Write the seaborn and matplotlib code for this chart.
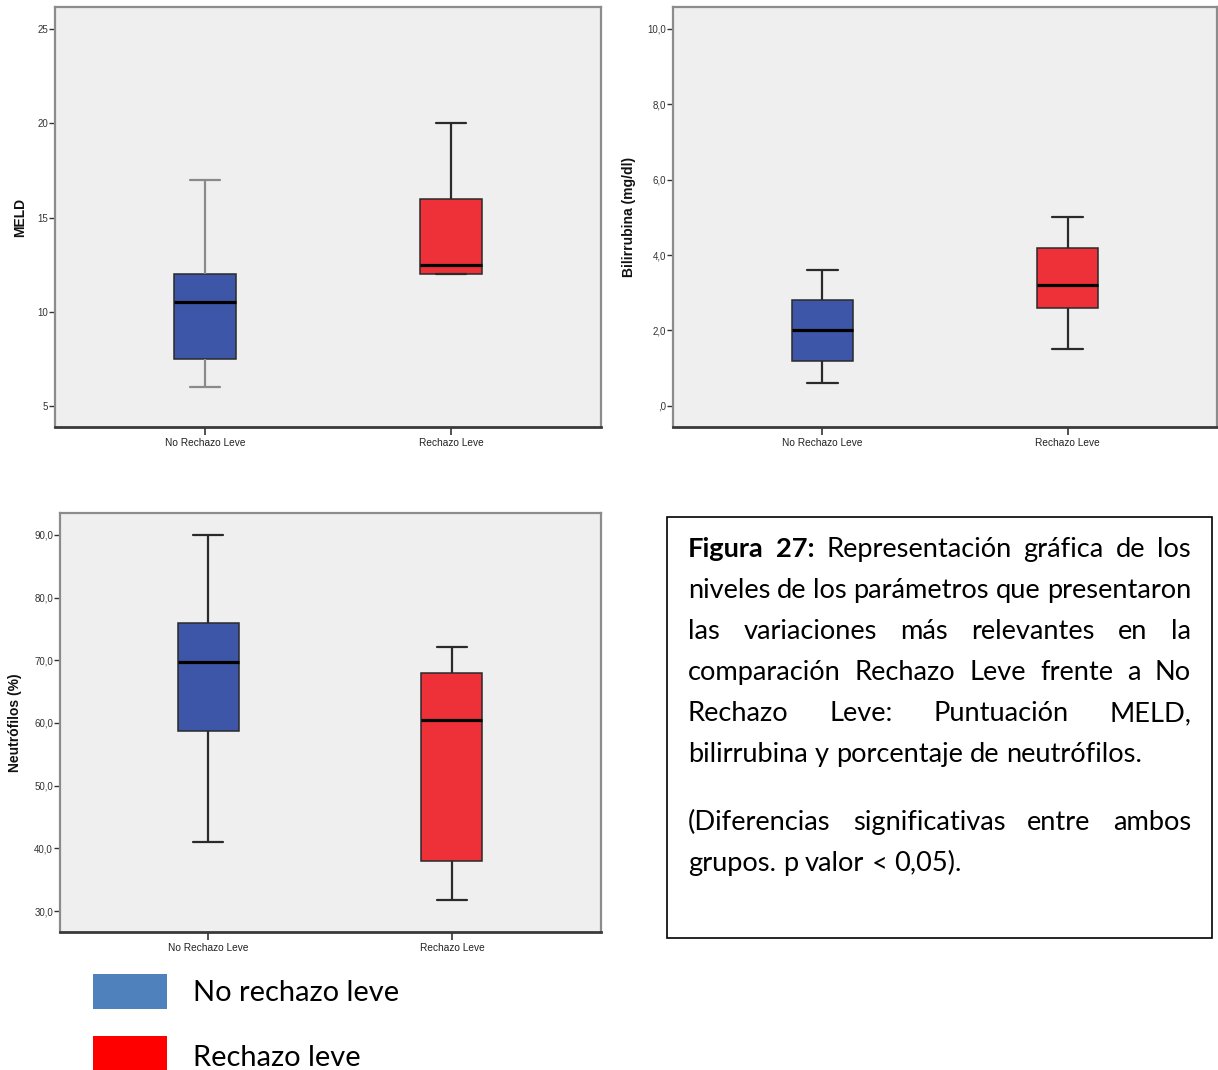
import matplotlib
matplotlib.use("Agg")
import matplotlib.pyplot as plt
import matplotlib.transforms as mtransforms
from matplotlib.patches import Rectangle
import seaborn as sns
import pandas as pd
import numpy as np

W, H, DPI = 1218, 1070, 100

# ---------------- data ----------------
groups = ["No Rechazo Leve", "Rechazo Leve"]
# five-number summaries: min, Q1, median, Q3, max
meld_no = [6.0, 7.5, 10.5, 12.0, 17.0]
meld_si = [12.0, 12.0, 12.5, 16.0, 20.0]
bili_no = [0.6, 1.2, 2.0, 2.8, 3.6]
bili_si = [1.5, 2.6, 3.2, 4.2, 5.0]
neut_no = [41.0, 58.7, 69.7, 76.0, 90.0]
neut_si = [31.8, 37.9, 60.4, 68.0, 72.2]

meld_ticks = [5, 10, 15, 20, 25]
meld_ticklabels = ["5", "10", "15", "20", "25"]
bili_ticks = [0, 2, 4, 6, 8, 10]
bili_ticklabels = [",0", "2,0", "4,0", "6,0", "8,0", "10,0"]
neut_ticks = [30, 40, 50, 60, 70, 80, 90]
neut_ticklabels = ["30,0", "40,0", "50,0", "60,0", "70,0", "80,0", "90,0"]

ylabels = ["MELD", "Bilirrubina (mg/dl)", "Neutrófilos (%)"]
legend_labels = ["No rechazo leve", "Rechazo leve"]

caption_lines = [
    [("Figura", "bold"), ("27:", "bold"), ("Representación", "normal"), ("gráfica", "normal"),
     ("de", "normal"), ("los", "normal")],
    "niveles de los parámetros que presentaron",
    "las variaciones más relevantes en la",
    "comparación Rechazo Leve frente a No",
    "Rechazo Leve: Puntuación MELD,",
    "bilirrubina y porcentaje de neutrófilos.",
    "(Diferencias significativas entre ambos",
    "grupos. p valor < 0,05).",
]
caption_justify = [True, True, True, True, True, False, True, False]

# ---------------- style ----------------
BOX_COLORS = ["#3d56a8", "#ee3039"]
LEG_COLORS = ["#4f81bd", "#ff0000"]
CHART_FONT = "Liberation Sans"
BODY_FONT = "Lato"

sns.set_theme(style="white")
plt.rcParams["font.family"] = [CHART_FONT, "DejaVu Sans"]

fig = plt.figure(figsize=(W / DPI, H / DPI), dpi=DPI)
fig.patch.set_facecolor("white")


def px_rect(l, t, r, b):
    return [l / W, 1 - b / H, (r - l) / W, (b - t) / H]


panels = [
    dict(rect=px_rect(55, 7, 601, 427), no=meld_no, si=meld_si, ylim=(3.89, 26.17),
         ticks=meld_ticks, tl=meld_ticklabels, label=ylabels[0], lx=-0.051,
         xlim=(-0.61, 1.61), gray_first=True),
    dict(rect=px_rect(673, 7, 1217, 427), no=bili_no, si=bili_si, ylim=(-0.56, 10.58),
         ticks=bili_ticks, tl=bili_ticklabels, label=ylabels[1], lx=-0.068,
         xlim=(-0.61, 1.61), gray_first=False),
    dict(rect=px_rect(60, 513, 601, 932), no=neut_no, si=neut_si, ylim=(26.65, 93.5),
         ticks=neut_ticks, tl=neut_ticklabels, label=ylabels[2], lx=-0.070,
         xlim=(-0.607, 1.611), gray_first=False),
]

for p in panels:
    ax = fig.add_axes(p["rect"])
    df = pd.DataFrame({
        "grupo": [groups[0]] * len(p["no"]) + [groups[1]] * len(p["si"]),
        "valor": list(p["no"]) + list(p["si"]),
    })
    sns.boxplot(data=df, x="grupo", y="valor", hue="grupo", order=groups, hue_order=groups,
                palette=BOX_COLORS, saturation=1, width=0.25, whis=(0, 100),
                showfliers=False, legend=False, ax=ax, linecolor="#2a2a2a",
                linewidth=1.5,
                boxprops=dict(linewidth=1.1),
                medianprops=dict(color="black", linewidth=2.3),
                whiskerprops=dict(color="#2a2a2a", linewidth=1.6),
                capprops=dict(color="#2a2a2a", linewidth=1.6))
    if p["gray_first"]:
        for ln in ax.lines:
            xd = np.asarray(ln.get_xdata(), dtype=float)
            if len(xd) and abs(xd.mean()) < 0.05 and (xd.max() - xd.min()) < 0.2:
                ln.set_color("#8a8a8a")
    ax.set_facecolor("#efefef")
    ax.set_xlim(*p["xlim"])
    ax.set_ylim(*p["ylim"])
    ax.set_yticks(p["ticks"])
    ax.set_yticklabels(p["tl"])
    ax.set_xlabel("")
    ax.set_ylabel(p["label"], fontsize=10, fontweight="bold", color="#111111",
                  family=[CHART_FONT, "DejaVu Sans"])
    ax.yaxis.set_label_coords(p["lx"], 0.5)
    ax.tick_params(axis="y", direction="out", length=4, width=1, color="#333333",
                   labelsize=7, labelcolor="#333333", pad=1, left=True)
    ax.tick_params(axis="x", direction="out", length=6, width=1.2, color="#333333",
                   labelsize=7.3, labelcolor="#222222", pad=2, bottom=True)
    for name, sp in ax.spines.items():
        sp.set_visible(True)
        sp.set_color("#8c8c8c")
        sp.set_linewidth(1.6)
    ax.spines["bottom"].set_color("#3a3a3a")
    ax.spines["bottom"].set_linewidth(2.0)

# ---------------- text helpers ----------------
renderer = fig.canvas.get_renderer()
ident = mtransforms.IdentityTransform()


def text_width(s, size, weight="normal", family=BODY_FONT):
    t = fig.text(0, 0, s, fontsize=size, fontweight=weight, family=family, transform=ident)
    w = t.get_window_extent(renderer).width
    t.remove()
    return w


def fit_size(s, target, weight="normal", family=BODY_FONT):
    return 20.0 * target / text_width(s, 20.0, weight, family)


body_size = fit_size("bilirrubina y porcentaje de neutrófilos.", 457)
space_w = text_width("n n", body_size) - text_width("nn", body_size)


def place_line(words, x0, x1, y_top_px, size, justify):
    if isinstance(words, str):
        words = [(w, "normal") for w in words.split(" ")]
    widths = [text_width(w, size, wt) for w, wt in words]
    if justify and len(words) > 1:
        gap = (x1 - x0 - sum(widths)) / (len(words) - 1)
    else:
        gap = space_w
    x = x0
    yb = H - y_top_px
    for (w, wt), wd in zip(words, widths):
        fig.text(x, yb, w, fontsize=size, fontweight=wt, family=BODY_FONT,
                 color="black", va="baseline", ha="left", transform=ident)
        x += wd + gap


# caption box
fig.add_artist(Rectangle((667, H - 938), 1212 - 667, 938 - 517, transform=ident,
                         facecolor="white", edgecolor="black", linewidth=1.2))
baselines = [557, 598, 639, 680, 721, 762, 830, 871]
for words, jb, yb in zip(caption_lines, caption_justify, baselines):
    place_line(words, 688, 1191, yb, body_size, jb)

# legend
leg_size = fit_size(legend_labels[0], 206)
for lab, col, top, base in zip(legend_labels, LEG_COLORS, [974, 1036], [1001, 1066]):
    fig.add_artist(Rectangle((93, H - (top + 35)), 74, 35, transform=ident,
                             facecolor=col, edgecolor="none"))
    fig.text(193, H - base, lab, fontsize=leg_size, family=BODY_FONT, color="black",
             va="baseline", ha="left", transform=ident)

fig.savefig("out.png", dpi=DPI, facecolor="white")
